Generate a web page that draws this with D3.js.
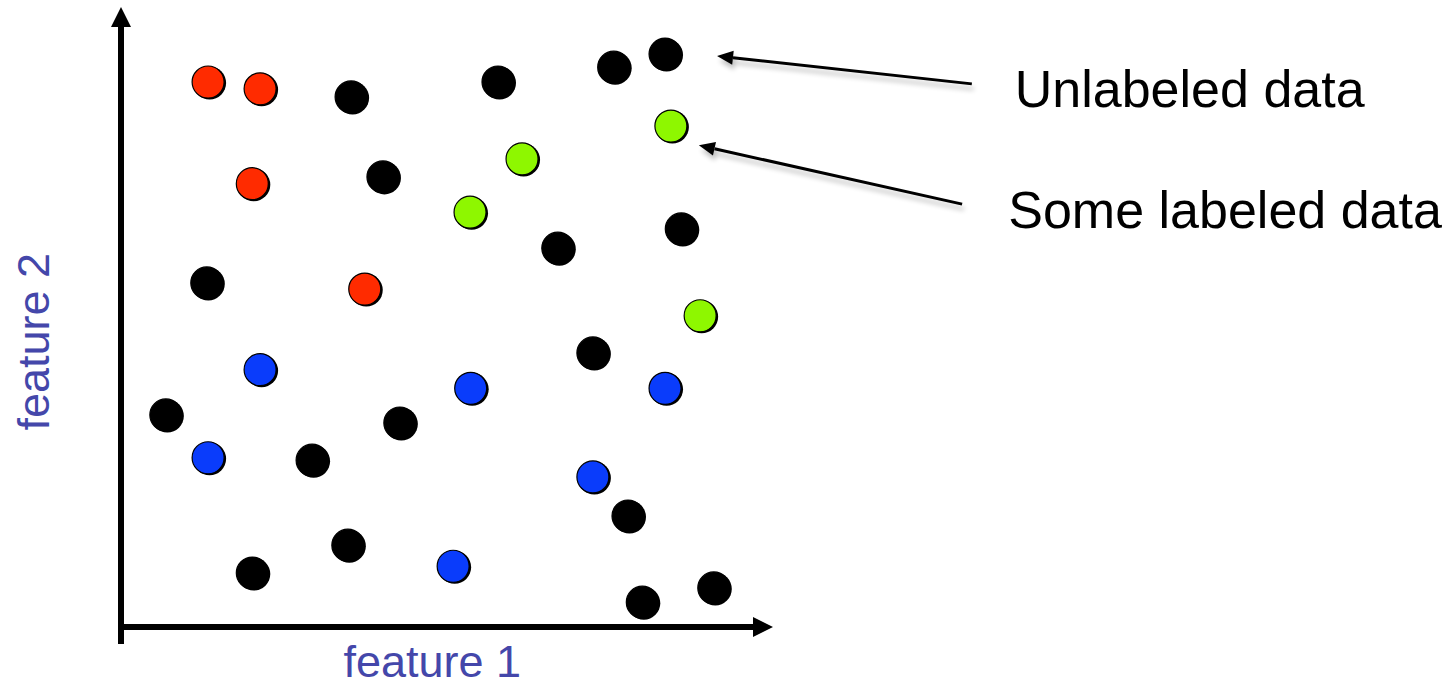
<!DOCTYPE html>
<html>
<head>
<meta charset="utf-8">
<script src="https://cdn.jsdelivr.net/npm/d3@7/dist/d3.min.js"></script>
<style>
  html, body { margin: 0; padding: 0; background: #fff; }
  svg { display: block; font-family: "Liberation Sans", Arial, Helvetica, sans-serif; }
</style>
</head>
<body>
<svg id="chart" width="1449" height="687"></svg>
<script>
// ---- Data (feature units, 0..10) ----
const unlabeledX = [3.54, 5.80, 7.58, 8.37, 4.03, 6.72, 8.62, 1.32, 7.26, 0.69, 4.29, 2.94, 7.80, 3.49, 2.02, 8.02, 9.12];
const unlabeledY = [8.55, 8.79, 9.03, 9.24, 7.26, 6.11, 6.42, 5.55, 4.42, 3.42, 3.29, 2.69, 1.79, 1.32, 0.87, 0.40, 0.63];
const redX = [1.34, 2.14, 2.02, 3.75];
const redY = [8.79, 8.68, 7.15, 5.45];
const greenX = [8.46, 6.17, 5.37, 8.91];
const greenY = [8.08, 7.55, 6.69, 5.02];
const blueX = [2.14, 5.38, 8.37, 1.34, 7.26, 5.11];
const blueY = [4.15, 3.85, 3.85, 2.73, 2.42, 0.98];
const annotationText = ["Unlabeled data", "Some labeled data"];
const annotationTip = [[9.17, 9.21], [8.89, 7.77]];
const annotationTail = [[13.09, 8.76], [12.94, 6.82]];
const annotationLabelPos = [[13.75, 8.39], [13.65, 6.44]];
const xLabel = "feature 1";
const yLabel = "feature 2";

// ---- Setup ----
const svg = d3.select("#chart");
const x = d3.scaleLinear().domain([0, 10]).range([121, 771]);
const y = d3.scaleLinear().domain([0, 10]).range([627, 7]);

const defs = svg.append("defs");
const f = defs.append("filter").attr("id", "soft").attr("x", "-20%").attr("y", "-50%").attr("width", "140%").attr("height", "200%");
f.append("feGaussianBlur").attr("in", "SourceAlpha").attr("stdDeviation", 2.5).attr("result", "b");
f.append("feOffset").attr("in", "b").attr("dx", 2).attr("dy", 5).attr("result", "o");
f.append("feComponentTransfer").attr("in", "o").attr("result", "s")
  .append("feFuncA").attr("type", "linear").attr("slope", 0.25);
const m = f.append("feMerge");
m.append("feMergeNode").attr("in", "s");
m.append("feMergeNode").attr("in", "SourceGraphic");

// ---- Axes ----
const x0 = x(0), y0 = y(0);
const ax = svg.append("g");
ax.append("line").attr("x1", x0).attr("x2", x0).attr("y1", y0 + 17).attr("y2", y(10) + 20)
  .attr("stroke", "#000").attr("stroke-width", 6);
ax.append("path").attr("d", `M${x0 - 10},${y(10) + 20}L${x0 + 10},${y(10) + 20}L${x0},${y(10)}Z`).attr("fill", "#000");
ax.append("line").attr("x1", x0 - 3).attr("x2", x(10) - 18).attr("y1", y0).attr("y2", y0)
  .attr("stroke", "#000").attr("stroke-width", 6);
ax.append("path").attr("d", `M${x(10) - 18},${y0 - 10}L${x(10) - 18},${y0 + 10}L${x(10) + 2},${y0}Z`).attr("fill", "#000");

// ---- Axis labels ----
svg.append("text").attr("x", x(4.79)).attr("y", 677)
  .attr("text-anchor", "middle").attr("font-size", 45).attr("fill", "#4447aa").text(xLabel);
svg.append("text").attr("transform", `translate(49,${y(4.6)}) rotate(-90)`)
  .attr("text-anchor", "middle").attr("font-size", 45).attr("fill", "#4447aa").text(yLabel);

// ---- Points ----
function drawSeries(xs, ys, color) {
  const pts = xs.map((v, i) => [v, ys[i]]);
  const g = svg.append("g");
  g.selectAll("circle.sh").data(pts).join("circle").attr("class", "sh")
    .attr("cx", d => x(d[0]) + 1.5).attr("cy", d => y(d[1]) + 1).attr("r", 16.5).attr("fill", "#000");
  g.selectAll("circle.pt").data(pts).join("circle").attr("class", "pt")
    .attr("cx", d => x(d[0])).attr("cy", d => y(d[1])).attr("r", 16)
    .attr("fill", color).attr("stroke", "#000").attr("stroke-width", 1.2);
}
drawSeries(unlabeledX, unlabeledY, "#000");
drawSeries(redX, redY, "#ff2b00");
drawSeries(greenX, greenY, "#8ef700");
drawSeries(blueX, blueY, "#0a3cfb");

// ---- Annotations ----
annotationText.forEach((t, i) => {
  const [tx, ty] = [x(annotationTip[i][0]), y(annotationTip[i][1])];
  const [ex, ey] = [x(annotationTail[i][0]), y(annotationTail[i][1])];
  const ang = Math.atan2(ey - ty, ex - tx);
  const L = 16, W = 7;
  const bx = tx + L * Math.cos(ang), by = ty + L * Math.sin(ang);
  const px = -Math.sin(ang) * W, py = Math.cos(ang) * W;
  const g = svg.append("g").attr("filter", "url(#soft)");
  g.append("line").attr("x1", bx).attr("y1", by).attr("x2", ex).attr("y2", ey)
    .attr("stroke", "#000").attr("stroke-width", 3);
  g.append("path").attr("d", `M${tx},${ty}L${bx + px},${by + py}L${bx - px},${by - py}Z`).attr("fill", "#000");
  svg.append("text").attr("x", x(annotationLabelPos[i][0])).attr("y", y(annotationLabelPos[i][1]))
    .attr("font-size", 52).attr("fill", "#000").text(t);
});
</script>
</body>
</html>
